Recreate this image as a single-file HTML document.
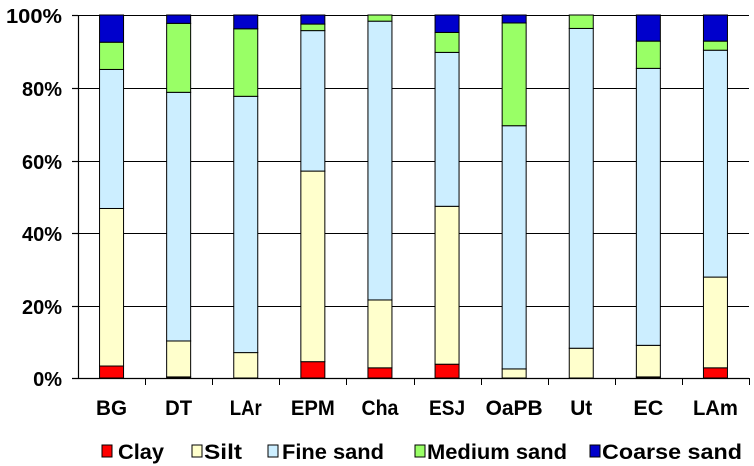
<!DOCTYPE html>
<html><head><meta charset="utf-8"><style>
html,body{margin:0;padding:0;background:#fff;}
svg{display:block;font-family:"Liberation Sans",Arial,sans-serif;font-weight:bold;}
</style></head><body>
<svg width="754" height="466" viewBox="0 0 754 466" xmlns="http://www.w3.org/2000/svg">
<g stroke="#000" stroke-width="1">
<line x1="78" y1="15.5" x2="749" y2="15.5"/>
<line x1="78" y1="88.5" x2="749" y2="88.5"/>
<line x1="78" y1="161.5" x2="749" y2="161.5"/>
<line x1="78" y1="233.5" x2="749" y2="233.5"/>
<line x1="78" y1="306.5" x2="749" y2="306.5"/>
</g>
<g id="bars" stroke="#000" stroke-width="1"></g>
<g stroke="#000" stroke-width="1.2">
<line x1="78.5" y1="15" x2="78.5" y2="379"/>
<line x1="72" y1="378.5" x2="749" y2="378.5"/>
<line x1="72" y1="15.5" x2="78" y2="15.5"/>
<line x1="72" y1="88.5" x2="78" y2="88.5"/>
<line x1="72" y1="161.5" x2="78" y2="161.5"/>
<line x1="72" y1="233.5" x2="78" y2="233.5"/>
<line x1="72" y1="306.5" x2="78" y2="306.5"/>
</g>
<g id="ticks" stroke="#000" stroke-width="1"></g>
<g font-size="20" text-anchor="end" fill="#000">
<text x="62" y="23" textLength="56" lengthAdjust="spacingAndGlyphs">100%</text>
<text x="62" y="96">80%</text>
<text x="62" y="169">60%</text>
<text x="62" y="241">40%</text>
<text x="62" y="314">20%</text>
<text x="62" y="386">0%</text>
</g>
<g id="labels" font-size="21" fill="#000"></g>
<g font-size="21" fill="#000">
<rect x="102" y="445" width="10" height="12" fill="#ff0000" stroke="#000"/><text x="118" y="459" textLength="46" lengthAdjust="spacingAndGlyphs">Clay</text>
<rect x="192" y="445" width="10" height="12" fill="#ffffcc" stroke="#000"/><text x="204" y="459" textLength="38" lengthAdjust="spacingAndGlyphs">Silt</text>
<rect x="268" y="445" width="10" height="12" fill="#cceeff" stroke="#000"/><text x="282" y="459" textLength="102" lengthAdjust="spacingAndGlyphs">Fine sand</text>
<rect x="415" y="445" width="10" height="12" fill="#99ff66" stroke="#000"/><text x="427" y="459" textLength="140" lengthAdjust="spacingAndGlyphs">Medium sand</text>
<rect x="590" y="445" width="10" height="12" fill="#0000cc" stroke="#000"/><text x="602" y="459" textLength="140" lengthAdjust="spacingAndGlyphs">Coarse sand</text>
</g>
</svg>
<script>
var names=["BG","DT","LAr","EPM","Cha","ESJ","OaPB","Ut","EC","LAm"];
var wl=[31,27,32,44,37,36,57,22,30,45];
var cum=[[3.3,46.7,85,92.5,100],[0.3,10.2,78.7,97.7,100],[0,7,77.6,96.2,100],[4.5,57,95.7,97.5,100],[2.8,21.5,98.3,100,100],[3.8,47.3,89.7,95.2,100],[0,2.5,69.5,97.8,100],[0,8.2,96.3,100,100],[0.3,9,85.3,92.8,100],[2.8,27.8,90.3,92.8,100]];
var cols=["#ff0000","#ffffcc","#cceeff","#99ff66","#0000cc"];
var ns="http://www.w3.org/2000/svg";
var bars=document.getElementById("bars"),ticks=document.getElementById("ticks"),labels=document.getElementById("labels");
function Y(p){return 378-p*3.63;}
var w=67.1;
for(var i=0;i<10;i++){
 var cx=78+w*(i+0.5),x=cx-12;
 var prev=0;
 for(var j=0;j<5;j++){
  var v=cum[i][j];
  if(v-prev>0.01){
   var r=document.createElementNS(ns,"rect");
   r.setAttribute("x",x);r.setAttribute("width",24);
   r.setAttribute("y",Y(v));r.setAttribute("height",Y(prev)-Y(v));
   r.setAttribute("fill",cols[j]);bars.appendChild(r);
  }
  prev=v;
 }
 var t=document.createElementNS(ns,"line");
 var tx=Math.round(78+w*(i+1))+0.5;
 t.setAttribute("x1",tx);t.setAttribute("x2",tx);t.setAttribute("y1",378);t.setAttribute("y2",385);
 ticks.appendChild(t);
 var l=document.createElementNS(ns,"text");
 l.setAttribute("x",cx-wl[i]/2);l.setAttribute("y",415);
 l.setAttribute("textLength",wl[i]);l.setAttribute("lengthAdjust","spacingAndGlyphs");
 l.textContent=names[i];labels.appendChild(l);
}
</script>
</body></html>
